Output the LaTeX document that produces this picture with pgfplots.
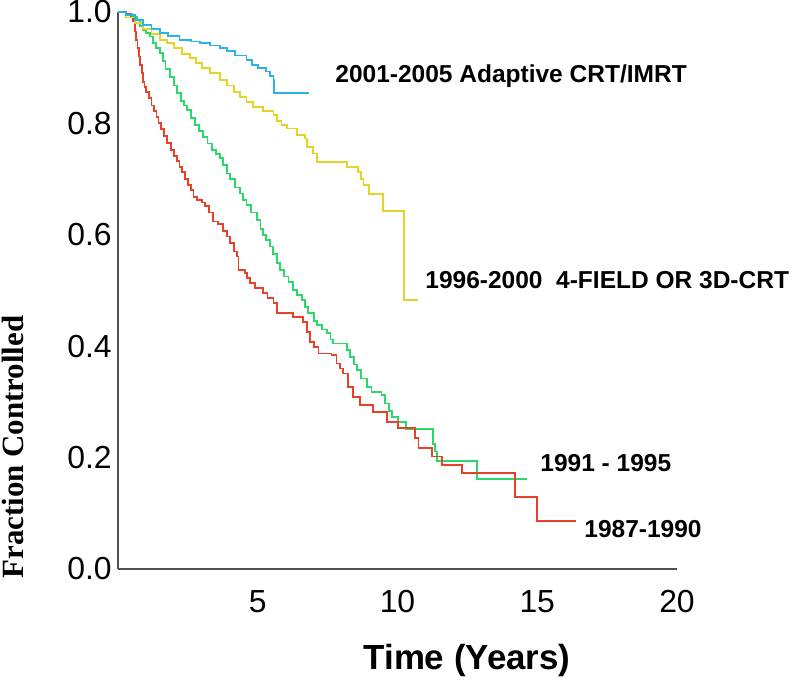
\documentclass[border=0pt]{standalone}
\usepackage{pgfplots}
\pgfplotsset{compat=1.18}
\usepackage{fontspec}
\setmainfont{Liberation Sans}
\newfontfamily\timesfont{Liberation Serif}
\definecolor{cred}{HTML}{E8402A}
\definecolor{cgreen}{HTML}{2BD96B}
\definecolor{cblue}{HTML}{2AB4E3}
\definecolor{cyellow}{HTML}{E5D426}
\definecolor{caxis}{HTML}{505050}
\begin{document}
\begin{tikzpicture}
\path[use as bounding box] (-59bp,-56.5bp) rectangle (341bp,284.5bp);
\begin{axis}[
  at={(0,0)}, anchor=south west,
  scale only axis, width=279.5bp, height=278.5bp,
  xmin=0, xmax=20, ymin=0, ymax=1,
  axis lines*=left,
  axis line style={-, draw=caxis, line width=1bp},
  xtick={5,10,15,20},
  ytick={0,0.2,0.4,0.6,0.8,1.0},
  major tick length=0pt,
  /pgf/number format/assume math mode=true,
  yticklabel style={/pgf/number format/.cd, fixed, fixed zerofill, precision=1, /tikz/.cd, font=\fontsize{16}{16}\selectfont, inner sep=0pt, anchor=east, xshift=-3bp},
  xticklabel style={font=\fontsize{16}{16}\selectfont, inner sep=0pt, anchor=north, yshift=-10.5bp},
  clip=false,
  every axis plot/.append style={const plot, line width=0.9bp, no marks},
]
\addplot[cgreen] coordinates {
(0,1) (0.3,0.996) (0.5,0.992) (0.67,0.986) (0.8,0.975) (0.9,0.968) (1.0,0.963) (1.14,0.956) (1.25,0.945) (1.35,0.935) (1.5,0.926) (1.6,0.912) (1.7,0.898) (1.86,0.884) (2.0,0.868) (2.1,0.855) (2.25,0.84) (2.35,0.832) (2.46,0.824) (2.6,0.81) (2.75,0.797) (2.9,0.786) (3.05,0.776) (3.2,0.764) (3.35,0.752) (3.5,0.745) (3.65,0.738) (3.75,0.725) (3.89,0.71) (4.0,0.7) (4.2,0.685) (4.37,0.674) (4.48,0.662) (4.6,0.653) (4.75,0.64) (4.96,0.627) (5.1,0.61) (5.2,0.6) (5.3,0.59) (5.44,0.579) (5.55,0.565) (5.68,0.55) (5.8,0.537) (5.95,0.525) (6.1,0.515) (6.27,0.501) (6.4,0.492) (6.57,0.483) (6.7,0.47) (6.81,0.459) (7.0,0.445) (7.11,0.438) (7.3,0.43) (7.47,0.423) (7.6,0.412) (7.7,0.405) (8.18,0.393) (8.3,0.381) (8.45,0.367) (8.54,0.357) (8.7,0.342) (8.9,0.327) (9.07,0.318) (9.43,0.312) (9.55,0.297) (9.7,0.283) (9.79,0.273) (10.03,0.264) (10.3,0.252) (11.26,0.225) (11.34,0.211) (11.4,0.194) (12.83,0.162) (14.62,0.162)
};
\addplot[cred] coordinates {
(0,1.0) (0.3,0.996) (0.45,0.99) (0.55,0.983) (0.6,0.965) (0.65,0.95) (0.7,0.935) (0.75,0.92) (0.8,0.905) (0.85,0.89) (0.9,0.875) (0.95,0.865) (1.0,0.857) (1.1,0.845) (1.2,0.832) (1.3,0.822) (1.38,0.812) (1.45,0.8) (1.55,0.79) (1.65,0.777) (1.75,0.765) (1.9,0.752) (2.0,0.742) (2.1,0.733) (2.2,0.722) (2.28,0.713) (2.4,0.7) (2.5,0.69) (2.6,0.68) (2.7,0.668) (2.82,0.662) (3.0,0.658) (3.11,0.652) (3.25,0.64) (3.41,0.624) (3.59,0.62) (3.75,0.607) (3.89,0.597) (4.0,0.585) (4.15,0.57) (4.25,0.561) (4.31,0.537) (4.54,0.531) (4.62,0.522) (4.72,0.513) (4.9,0.505) (5.2,0.495) (5.35,0.487) (5.56,0.477) (5.68,0.459) (6.27,0.453) (6.63,0.444) (6.75,0.425) (6.87,0.408) (7.0,0.398) (7.17,0.387) (7.64,0.384) (7.82,0.369) (7.95,0.36) (8.06,0.351) (8.24,0.327) (8.42,0.309) (8.66,0.294) (9.13,0.282) (9.61,0.264) (10.03,0.253) (10.63,0.235) (10.75,0.217) (11.22,0.202) (11.6,0.187) (12.3,0.172) (14.2,0.129) (14.98,0.086) (16.38,0.086)
};
\addplot[cyellow] coordinates {
(0,1) (0.3,0.99) (0.6,0.98) (0.9,0.97) (1.2,0.96) (1.5,0.95) (1.74,0.944) (2.0,0.935) (2.3,0.925) (2.58,0.917) (2.8,0.908) (3.0,0.9) (3.3,0.89) (3.65,0.878) (3.9,0.868) (4.15,0.857) (4.37,0.848) (4.6,0.838) (4.84,0.83) (5.2,0.822) (5.56,0.815) (5.7,0.805) (5.85,0.797) (6.04,0.791) (6.39,0.779) (6.69,0.773) (6.75,0.758) (6.99,0.746) (7.11,0.731) (8.2,0.722) (8.6,0.713) (8.7,0.7) (8.78,0.689) (8.97,0.673) (9.47,0.643) (10.24,0.483) (10.73,0.483)
};
\addplot[cblue] coordinates {
(0,1) (0.3,0.995) (0.6,0.985) (0.9,0.977) (1.2,0.97) (1.5,0.963) (1.8,0.957) (2.2,0.95) (2.6,0.947) (2.93,0.944) (3.3,0.94) (3.65,0.935) (3.9,0.93) (4.2,0.922) (4.6,0.914) (4.8,0.905) (5.0,0.9) (5.3,0.893) (5.45,0.885) (5.56,0.878) (5.58,0.854) (6.84,0.854)
};
\end{axis}
\node[rotate=90, inner sep=0pt, font=\timesfont\bfseries\fontsize{15.5}{15.5}\selectfont] at (-52.5bp,61bp) {Fraction Controlled};
\node[inner sep=0pt, font=\bfseries\fontsize{17.5}{17.5}\selectfont] at (174.5bp,-45.5bp) {Time (Years)};
\begin{scope}[every node/.style={inner sep=0pt, anchor=west, font=\bfseries\fontsize{12.3}{12.3}\selectfont}]
\node at (108.5bp,246.3bp) {2001-2005 Adaptive CRT/IMRT};
\node at (153.5bp,144.5bp) {1996-2000\ \ 4-FIELD OR 3D-CRT};
\node at (211bp,53bp) {1991 - 1995};
\node at (233bp,20bp) {1987-1990};
\end{scope}
\end{tikzpicture}
\end{document}
